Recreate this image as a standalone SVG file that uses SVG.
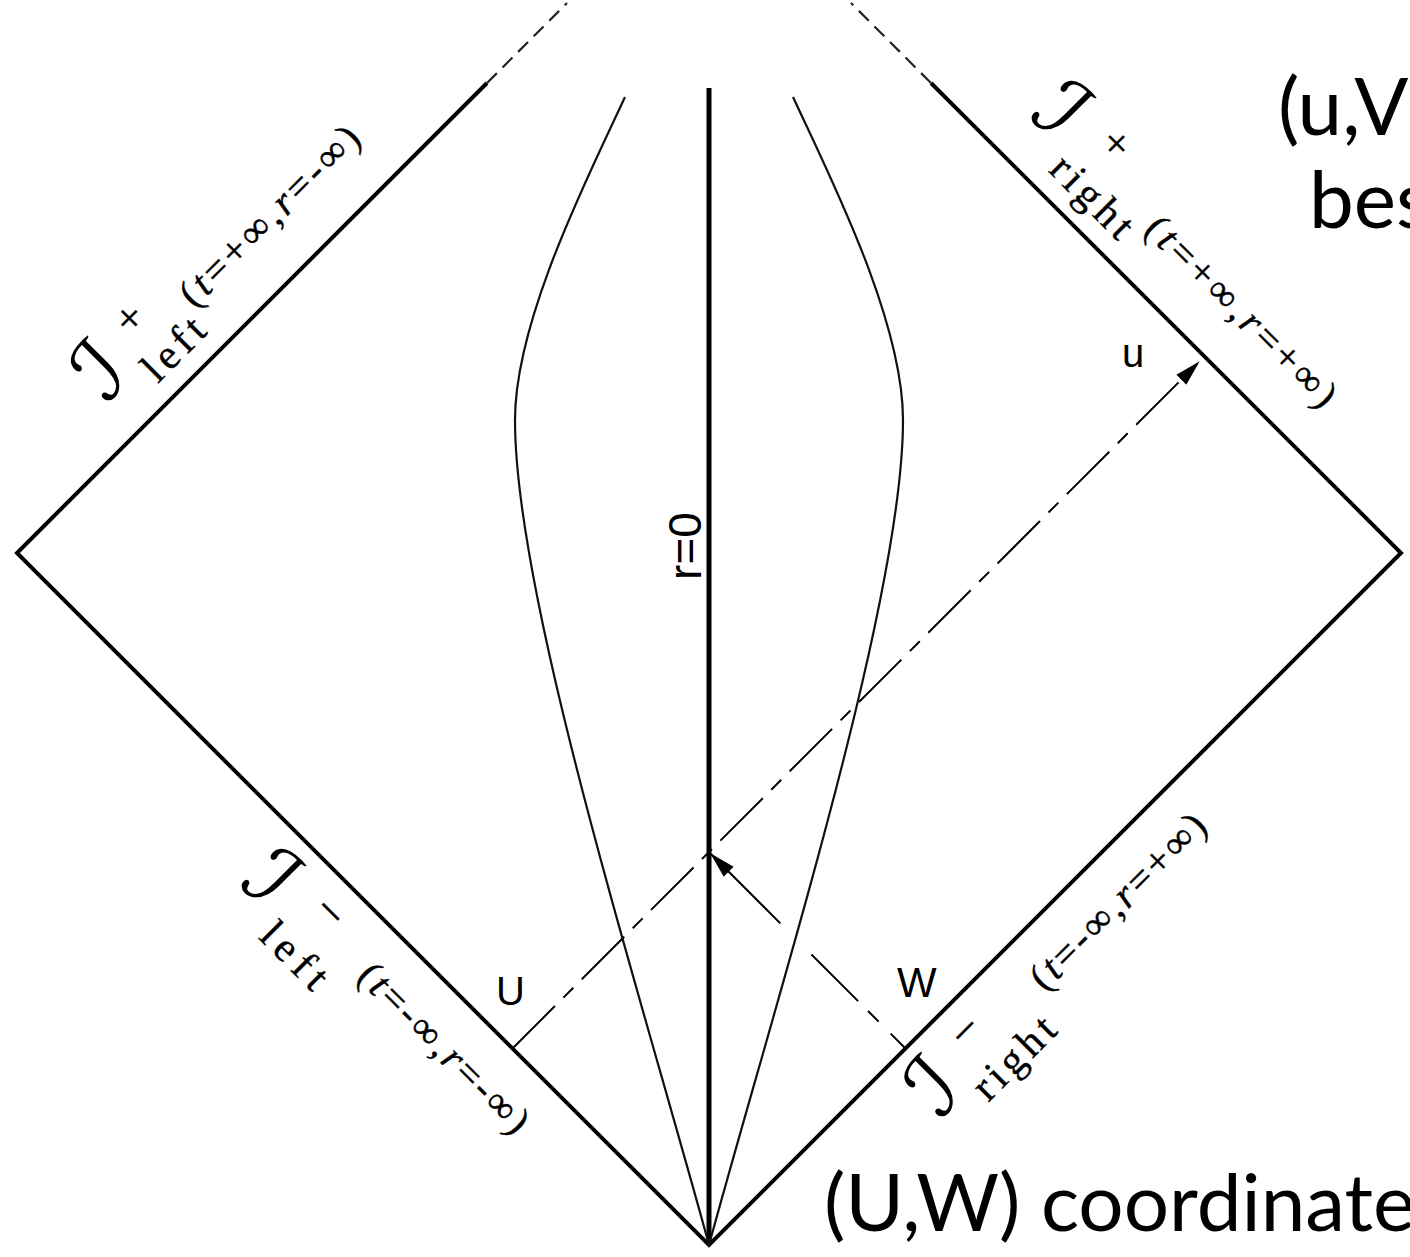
<svg xmlns="http://www.w3.org/2000/svg" width="1410" height="1257" viewBox="0 0 1410 1257">
<defs>
<marker id="ah" viewBox="0 0 26 16" refX="25" refY="8" markerWidth="26" markerHeight="16" markerUnits="userSpaceOnUse" orient="auto"><path d="M0,1 L26,8 L0,15 Z" fill="#000"/></marker>
<style>
.edge{stroke:#000;stroke-width:4;fill:none;stroke-linejoin:miter}
.ext{stroke:#222;stroke-width:2.2;fill:none;stroke-dasharray:14 8}
.axis{stroke:#000;stroke-width:5}
.curve{stroke:#111;stroke-width:2.2;fill:none}
.ray{stroke:#000;stroke-width:2;fill:none}
.lbl{font-family:"Liberation Serif","Times New Roman",serif;fill:#000;stroke:#000;stroke-width:0.4}
.scr{font-family:"DejaVu Serif","DejaVu Sans",serif;font-size:84px;fill:#000}
.it{font-style:italic}
.sans{font-family:"Liberation Sans",Arial,sans-serif;fill:#000}
.gill{font-family:Lato,"Liberation Sans",sans-serif;font-size:80px;fill:#000}
</style>
</defs>
<rect width="1410" height="1257" fill="#fff"/>
<g id="diamond">
<path class="edge" d="M487,83 L17,553 L709,1245 L1401,553 L931,83"/>
<path class="ext" d="M487,83 L567,3"/>
<path class="ext" d="M931,83 L851,3"/>
</g>
<g id="axis-r0">
<line class="axis" x1="709" y1="88" x2="709" y2="1245"/>
<text class="sans" transform="translate(701,546) rotate(-90)" text-anchor="middle" font-size="46">r=0</text>
</g>
<g id="curves">
<path class="curve" d="M625,97 C588,177 515,320 515,420 C515,600 641,995 709,1245"/>
<path class="curve" d="M793,97 C830,177 903,320 903,420 C903,600 777,995 709,1245"/>
</g>
<g id="connectors">
<path class="ray" d="M512.5,1048.5 L1199,362" style="stroke-dasharray:60 12 14 12" marker-end="url(#ah)"/>
<path class="ray" d="M905.5,1048.5 L711,854" style="stroke-dasharray:21 17 15 14 66 44 300" marker-end="url(#ah)"/>
</g>
<g id="ray-labels">
<text class="sans" x="496" y="1005" font-size="40">U</text>
<text class="sans" x="897" y="997" font-size="42">W</text>
<text class="sans" x="1122" y="367" font-size="40">u</text>
</g>
<g id="scri-plus-left" transform="translate(17,553) rotate(-45)">
<text class="scr" x="168" y="-42">ℐ</text>
<text class="lbl" x="233" y="-72" font-size="44">+</text>
<text class="lbl" x="219" y="-20" font-size="42" textLength="72" lengthAdjust="spacing">left</text>
<text class="lbl" x="298" y="-47" font-size="40" textLength="238" lengthAdjust="spacing">(<tspan class="it">t</tspan>=+∞,<tspan class="it">r</tspan>=-∞)</text>
</g>
<g id="scri-plus-right" transform="translate(848,0) rotate(45)">
<text class="scr" x="209" y="-45">ℐ</text>
<text class="lbl" x="279" y="-74" font-size="44">+</text>
<text class="lbl" x="262" y="-20" font-size="42" textLength="100" lengthAdjust="spacing">right</text>
<text class="lbl" x="372" y="-45" font-size="40" textLength="253" lengthAdjust="spacing">(<tspan class="it">t</tspan>=+∞,<tspan class="it">r</tspan>=+∞)</text>
</g>
<g id="scri-minus-left" transform="translate(17,553) rotate(45)">
<text class="scr" x="390" y="78">ℐ</text>
<text class="lbl" x="462" y="48" font-size="48">−</text>
<text class="lbl" x="442" y="102" font-size="42" textLength="78" lengthAdjust="spacing">left</text>
<text class="lbl" x="540" y="61" font-size="40" textLength="224" lengthAdjust="spacing">(<tspan class="it">t</tspan>=-∞,<tspan class="it">r</tspan>=-∞)</text>
</g>
<g id="scri-minus-right" transform="translate(709,1245) rotate(-45)">
<text class="scr" x="251" y="75">ℐ</text>
<text class="lbl" x="319" y="45" font-size="48">−</text>
<text class="lbl" x="298" y="97" font-size="42" textLength="100" lengthAdjust="spacing">right</text>
<text class="lbl" x="416" y="59" font-size="40" textLength="232" lengthAdjust="spacing">(<tspan class="it">t</tspan>=-∞,<tspan class="it">r</tspan>=+∞)</text>
</g>
<g id="captions">
<text class="gill" x="1278" y="135">(u,V</text>
<text class="gill" x="1309" y="228">bes</text>
<text class="gill" x="824" y="1231" font-size="85">(U,W) coordinate</text>
</g>
</svg>
